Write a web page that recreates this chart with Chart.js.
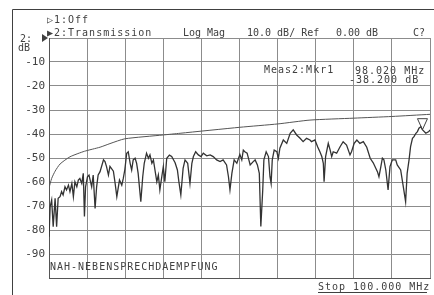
<!DOCTYPE html>
<html>
<head>
<meta charset="utf-8">
<script src="https://cdn.jsdelivr.net/npm/chart.js@4/dist/chart.umd.min.js"></script>
<style>
  html, body { margin: 0; padding: 0; background: #fff; }
  #wrap { position: relative; width: 434px; height: 295px; }
</style>
</head>
<body>
<div id="wrap"><canvas id="chart" width="434" height="295"></canvas></div>
<script>
"use strict";

// measured trace (MHz, dB)
const traceFreq = [
  0.0, 0.3, 0.7, 1.1, 1.6, 2.0, 2.4, 2.9, 3.3, 3.7, 4.2, 4.6, 5.1, 5.5, 6.0, 6.4, 6.8, 7.3, 7.7, 8.1,
  8.6, 9.0, 9.3, 9.6, 10.1, 10.5, 11.2, 11.6, 12.1, 12.5, 12.9, 13.4, 14.3, 14.7, 15.1, 15.6, 16.0, 16.9,
  17.3, 17.8, 18.5, 19.1, 19.5, 19.9, 20.4, 20.8, 21.3, 21.7, 22.1, 22.6, 23.0, 23.4, 24.1, 24.6, 25.0,
  25.6, 26.1, 26.5, 27.0, 27.4, 28.3, 28.7, 29.1, 29.6, 30.0, 30.4, 30.9, 31.6, 32.2, 33.1, 33.7, 34.1,
  34.6, 35.2, 35.7, 36.4, 37.0, 37.5, 37.9, 38.5, 39.2, 39.9, 40.5, 41.4, 42.3, 43.1, 44.0, 44.9, 45.7,
  46.6, 47.1, 47.5, 48.0, 48.6, 49.3, 50.1, 50.6, 51.0, 51.4, 52.0, 52.8, 53.6, 54.1, 54.7, 55.2, 55.6,
  56.1, 56.4, 57.0, 57.6, 58.0, 58.3, 58.6, 59.1, 59.8, 60.2, 60.6, 61.5, 62.4, 63.3, 64.1, 65.0, 65.9,
  66.7, 67.6, 68.5, 68.9, 69.8, 70.5, 71.1, 71.6, 72.0, 72.2, 72.6, 73.3, 73.8, 74.2, 74.6, 75.5, 76.4,
  77.2, 78.1, 79.0, 79.4, 80.1, 80.8, 81.6, 82.5, 83.4, 84.3, 85.1, 86.2, 86.6, 87.1, 87.5, 87.9, 88.4,
  89.0, 89.5, 90.1, 91.0, 91.4, 92.3, 93.0, 93.6, 94.0, 94.5, 94.9, 95.4, 95.8, 96.3, 96.7, 97.1, 97.6,
  98.0, 98.9, 99.7, 100.0
];
const traceDb = [
  -82.8, -70.3, -67.5, -78.6, -66.8, -78.6, -66.8, -66.1, -64.0, -65.4, -62.0, -63.3, -61.3, -64.0, -60.6, -66.1, -59.9, -62.0, -59.2, -58.5,
  -60.6, -56.4, -74.4, -62.0, -57.8, -57.1, -62.0, -57.1, -71.0, -62.0, -57.1, -55.7, -50.8, -51.5, -53.6, -57.1, -53.5, -55.5,
  -59.9, -66.1, -59.2, -61.3, -58.5, -54.9, -48.0, -47.4, -52.2, -55.0, -50.8, -50.1, -52.2, -56.4, -68.2, -57.8, -52.2,
  -48.0, -50.1, -48.7, -52.2, -50.8, -59.9, -57.1, -63.3, -57.8, -53.6, -59.9, -50.1, -48.8, -49.4, -52.0, -55.0, -60.0,
  -65.4, -54.3, -50.8, -52.2, -60.6, -52.2, -49.4, -47.4, -48.7, -49.4, -48.0, -49.1, -48.7, -49.4, -50.8, -51.5, -50.8,
  -52.9, -57.8, -63.3, -56.4, -50.8, -52.2, -48.5, -50.8, -46.7, -47.4, -48.0, -52.9, -51.5, -50.8, -52.9, -56.4, -78.5,
  -63.3, -50.8, -47.4, -49.4, -57.8, -60.6, -50.8, -46.7, -47.4, -50.1, -45.9, -42.5, -43.9, -39.7, -38.3, -40.4, -41.8,
  -43.2, -41.8, -42.5, -43.2, -42.5, -45.3, -47.4, -49.4, -52.2, -59.9, -49.4, -43.9, -46.7, -49.4, -47.4, -48.0, -45.3,
  -43.2, -44.6, -48.7, -47.4, -43.9, -42.5, -43.9, -43.2, -45.5, -50.1, -52.0, -55.7, -57.8, -53.6, -50.1, -50.8, -55.0,
  -63.3, -53.6, -50.8, -50.8, -52.9, -55.0, -62.0, -68.2, -56.4, -50.8, -45.3, -41.8, -41.1, -39.7, -39.0, -37.6, -37.0,
  -38.2, -39.7, -39.0, -38.3
];

// limit curve (MHz, dB)
const limitFreq = [0.0, 0.7, 1.6, 2.9, 5.5, 9.3, 13.4, 16.0, 19.9, 30.0, 34.4, 50.1, 60.1, 68.5, 80.0, 90.0, 100.0];
const limitDb = [-62.5, -58.5, -55.5, -52.5, -49.5, -47.2, -45.5, -44.0, -42.0, -40.4, -39.7, -37.2, -35.8, -34.2, -33.4, -32.7, -31.8];

const yTicks = [-10, -20, -30, -40, -50, -60, -70, -80, -90];
const marker = { freq: 98.02, db: -38.2 };

const INK = "#404040";
const GRID = "#8c8c8c";
const FONT = "DejaVu Sans Mono";

const textPlugin = {
  id: "analyzerText",
  afterDraw(chart) {
    const ctx = chart.ctx;
    const x = chart.scales.x;
    const y = chart.scales.y;
    ctx.save();
    ctx.fillStyle = INK;
    ctx.strokeStyle = INK;
    ctx.font = `10px ${FONT}`;
    ctx.textBaseline = "middle";
    ctx.letterSpacing = "1px";

    // frame
    ctx.lineWidth = 1;
    ctx.beginPath();
    ctx.moveTo(12.5, 295);
    ctx.lineTo(12.5, 9.5);
    ctx.lineTo(434, 9.5);
    ctx.stroke();

    // header
    ctx.fillText("\u25B71:Off", 47, 20);
    ctx.fillText("\u25B62:Transmission", 47, 33);
    ctx.letterSpacing = "0px";
    ctx.fillText("Log Mag", 183, 33);
    ctx.fillText("10.0 dB/ Ref", 247, 33);
    ctx.fillText("0.00 dB", 336, 33);
    ctx.fillText("C?", 413, 33);

    // reference marker at 0 dB
    const y0 = y.getPixelForValue(0);
    ctx.fillText("2:", 20, y0 + 1);
    ctx.fillText("dB", 18, y0 + 10);
    ctx.beginPath();
    ctx.moveTo(42, y0 - 4);
    ctx.lineTo(48, y0);
    ctx.lineTo(42, y0 + 4);
    ctx.closePath();
    ctx.fill();

    // marker readout
    ctx.letterSpacing = "1px";
    ctx.fillText("Meas2:Mkr1", 264, 70);
    ctx.fillText("98.020 MHz", 355, 71);
    ctx.fillText("-38.200 dB", 349, 80);

    // marker triangle
    const mx = x.getPixelForValue(marker.freq);
    const my = y.getPixelForValue(marker.db);
    ctx.lineWidth = 1;
    ctx.beginPath();
    ctx.moveTo(mx, my);
    ctx.lineTo(mx - 5, my - 11);
    ctx.lineTo(mx + 5, my - 11);
    ctx.closePath();
    ctx.stroke();

    // title in plot + stop frequency
    ctx.fillText("NAH-NEBENSPRECHDAEMPFUNG", 50, y.getPixelForValue(-95) + 1);
    ctx.fillText("Stop 100.000 MHz", 318, 287);
    ctx.beginPath();
    ctx.moveTo(318, 292.5);
    ctx.lineTo(427, 292.5);
    ctx.stroke();
    ctx.restore();
  },
};

new Chart(document.getElementById("chart"), {
  type: "line",
  data: {
    datasets: [
      {
        label: "Limit",
        data: limitFreq.map((f, i) => ({ x: f, y: limitDb[i] })),
        borderColor: "#555",
        borderWidth: 1,
        pointRadius: 0,
        tension: 0.2,
      },
      {
        label: "Transmission",
        data: traceFreq.map((f, i) => ({ x: f, y: traceDb[i] })),
        borderColor: "#333",
        borderWidth: 1.3,
        pointRadius: 0,
        tension: 0,
      },
    ],
  },
  options: {
    responsive: false,
    animation: false,
    layout: { padding: { top: 38, right: 4, bottom: 17, left: 0 } },
    plugins: { legend: { display: false }, tooltip: { enabled: false } },
    scales: {
      x: {
        type: "linear",
        min: 0,
        max: 100,
        ticks: { display: false, stepSize: 10 },
        grid: { color: GRID, lineWidth: 1, drawTicks: false },
        border: { color: "#555" },
        afterFit: s => { s.height = 0; },
      },
      y: {
        min: -100,
        max: 0,
        ticks: {
          stepSize: 10,
          color: INK,
          padding: 4,
          font: { family: FONT, size: 11 },
          callback: v => (yTicks.includes(v) ? String(v) : ""),
        },
        grid: { color: GRID, lineWidth: 1, drawTicks: false },
        border: { color: "#555" },
        afterFit: s => { s.width = 49; },
      },
    },
  },
  plugins: [textPlugin],
});
</script>
</body>
</html>
